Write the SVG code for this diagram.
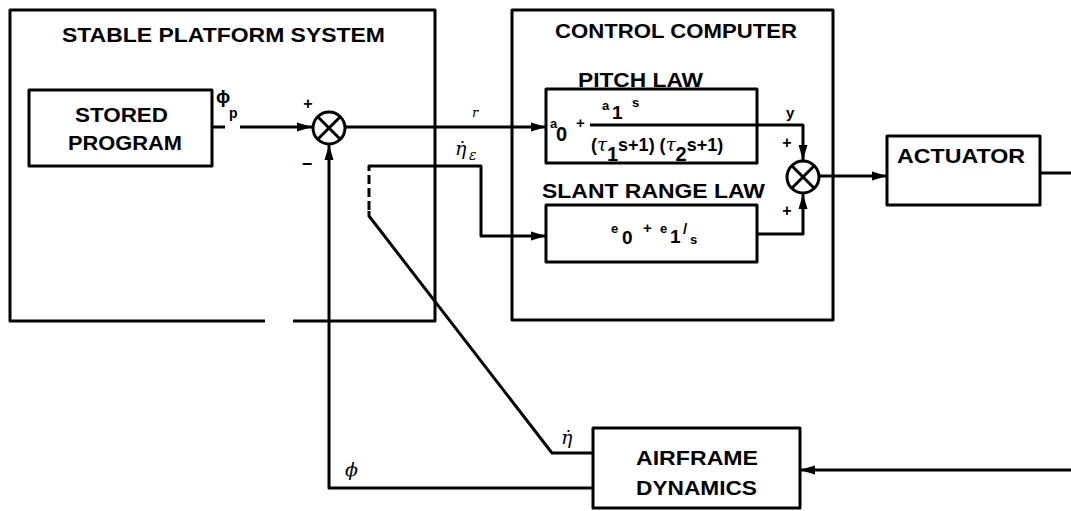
<svg xmlns="http://www.w3.org/2000/svg" width="1071" height="511" viewBox="0 0 1071 511">
<defs>
<marker id="arr" markerUnits="userSpaceOnUse" markerWidth="16" markerHeight="12" refX="15" refY="6" orient="auto">
<path d="M0,1.5 L15,6 L0,10.5 Z" fill="#000"/>
</marker>
<style>
.box{fill:none;stroke:#000;stroke-width:3;stroke-linejoin:round}
.ln{fill:none;stroke:#000;stroke-width:3;stroke-linejoin:round}
.t{font-family:"Liberation Sans",Arial,sans-serif;font-weight:bold;fill:#000}
.m{font-family:"Liberation Sans",Arial,sans-serif;font-weight:bold;fill:#000}
.g{font-family:"DejaVu Serif","Liberation Serif",serif;font-style:italic;fill:#000}
.sum{fill:#fff;stroke:#000;stroke-width:3}
</style>
</defs>
<rect width="1071" height="511" fill="#fff"/>

<g id="stable-platform">
<path class="box" d="M265,321 H10 V10 H435 V321 H293"/>
<text class="t" x="62" y="42" font-size="21" textLength="323" lengthAdjust="spacingAndGlyphs">STABLE PLATFORM SYSTEM</text>
</g>

<g id="stored-program">
<rect class="box" x="29" y="90" width="183" height="76"/>
<text class="t" x="75" y="122" font-size="21" textLength="93" lengthAdjust="spacingAndGlyphs">STORED</text>
<text class="t" x="68" y="150" font-size="21" textLength="114" lengthAdjust="spacingAndGlyphs">PROGRAM</text>
</g>

<g id="sum1">
<circle class="sum" cx="329" cy="128" r="16"/>
<path class="ln" d="M318,117 L340,139 M340,117 L318,139"/>
<text class="m" x="308" y="109" font-size="16" text-anchor="middle">+</text>
<text class="m" x="307" y="170" font-size="18" text-anchor="middle">−</text>
</g>

<g id="control-computer">
<rect class="box" x="512" y="10" width="321" height="310"/>
<text class="t" x="555" y="38" font-size="21" textLength="242" lengthAdjust="spacingAndGlyphs">CONTROL COMPUTER</text>
</g>

<g id="pitch-law">
<text class="t" x="578" y="87" font-size="20" textLength="125" lengthAdjust="spacingAndGlyphs">PITCH LAW</text>
<rect class="box" x="546" y="89" width="211" height="74"/>
<line class="ln" x1="590" y1="125" x2="757" y2="125"/>
<text class="m" x="550" y="128" font-size="13">a</text>
<text class="m" x="556" y="141" font-size="20">0</text>
<text class="m" x="576" y="128" font-size="15">+</text>
<text class="m" x="602" y="110" font-size="13">a</text>
<text class="m" x="612" y="119" font-size="19">1</text>
<text class="m" x="632" y="107" font-size="13">s</text>
<text class="m" x="591" y="151" font-size="18">(<tspan class="g" font-weight="normal">τ</tspan><tspan dy="10" font-size="20">1</tspan><tspan dy="-10">s+1) (</tspan><tspan class="g" font-weight="normal">τ</tspan><tspan dy="10" font-size="20">2</tspan><tspan dy="-10">s+1)</tspan></text>
</g>

<g id="slant-range-law">
<text class="t" x="542" y="198" font-size="20" textLength="223" lengthAdjust="spacingAndGlyphs">SLANT RANGE LAW</text>
<rect class="box" x="546" y="205" width="211" height="57"/>
<text class="m" x="611" y="233" font-size="13">e</text>
<text class="m" x="622" y="244" font-size="19">0</text>
<text class="m" x="643" y="233" font-size="15">+</text>
<text class="m" x="660" y="233" font-size="13">e</text>
<text class="m" x="670" y="243" font-size="19">1</text>
<text class="m" x="683" y="234" font-size="15">/</text>
<text class="m" x="690" y="244" font-size="13">s</text>
</g>

<g id="sum2">
<circle class="sum" cx="803" cy="177" r="16"/>
<path class="ln" d="M792,166 L814,188 M814,166 L792,188"/>
<text class="m" x="787" y="148" font-size="16" text-anchor="middle">+</text>
<text class="m" x="787" y="216" font-size="16" text-anchor="middle">+</text>
</g>

<g id="actuator">
<rect class="box" x="887" y="136" width="153" height="69"/>
<text class="t" x="897" y="163" font-size="21" textLength="128" lengthAdjust="spacingAndGlyphs">ACTUATOR</text>
</g>

<g id="airframe-dynamics">
<rect class="box" x="593" y="428" width="207" height="80"/>
<text class="t" x="636" y="465" font-size="20" textLength="122" lengthAdjust="spacingAndGlyphs">AIRFRAME</text>
<text class="t" x="636" y="495" font-size="20" textLength="121" lengthAdjust="spacingAndGlyphs">DYNAMICS</text>
</g>

<g id="connectors">
<line class="ln" x1="212" y1="127" x2="225" y2="127"/>
<line class="ln" x1="240" y1="127" x2="312" y2="127" marker-end="url(#arr)"/>
<line class="ln" x1="345" y1="127" x2="546" y2="127" marker-end="url(#arr)"/>
<polyline class="ln" points="757,125 803,125 803,160" marker-end="url(#arr)"/>
<polyline class="ln" points="757,234 803,234 803,194" marker-end="url(#arr)"/>
<line class="ln" x1="819" y1="176" x2="887" y2="176" marker-end="url(#arr)"/>
<line class="ln" x1="1040" y1="173" x2="1071" y2="173"/>
<line class="ln" x1="1071" y1="470" x2="800" y2="470" marker-end="url(#arr)"/>
<polyline class="ln" points="593,488 329,488 329,145" marker-end="url(#arr)"/>
<polyline class="ln" points="593,453 552,453 369,216 369,211"/>
<line class="ln" x1="369" y1="210" x2="369" y2="171" stroke-dasharray="9,4"/>
<polyline class="ln" points="369,171 369,166 481,166 481,236 546,236" marker-end="url(#arr)"/>
</g>

<g id="labels">
<text class="t" x="216" y="103" font-size="19">ϕ</text>
<text class="t" x="229" y="118" font-size="14">p</text>
<text class="g" x="472" y="117" font-size="13">r</text>
<text class="g" x="455" y="155" font-size="19">η̇</text>
<text class="g" x="469" y="160" font-size="14">ε</text>
<text class="g" x="561" y="444" font-size="19">η̇</text>
<text class="g" x="345" y="476" font-size="19">ϕ</text>
<text class="m" x="786" y="118" font-size="15">y</text>
</g>
</svg>
